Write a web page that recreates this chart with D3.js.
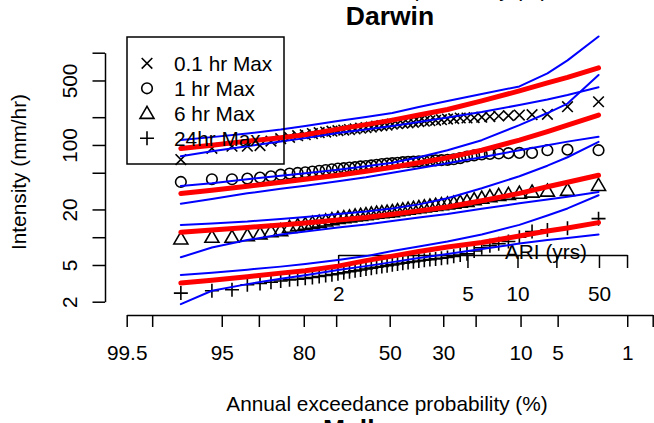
<!DOCTYPE html>
<html><head><meta charset="utf-8">
<script src="https://cdn.jsdelivr.net/npm/d3@7"></script>
<style>
body{margin:0;background:#fff;}
text{font-family:"Liberation Sans",Arial,Helvetica,sans-serif;fill:#000;}
</style></head>
<body><svg id="c" width="654" height="423"></svg>
<script>
// ---------- data ----------
const aepTicks  = [99.5, 99, 95, 90, 80, 70, 50, 30, 20, 10, 5, 1, 0.5];
const aepLabels = ["99.5","","95","","80","","50","30","","10","5","1",""];
const yTicks    = [2,5,10,20,50,100,200,500,1000];
const yLabels   = ["2","5","","20","","100","","500",""];
const ariTicks  = [2,5,10,20,50,100];
const ariLabels = ["2","5","10","","50",""];
const seriesNames = ["0.1 hr Max","1 hr Max","6 hr Max","24hr Max"];
const seriesSymbols = ["cross","circle","triangle","plus"];

// empirical annual maxima, sorted ascending (48 years)
const pts01 = [69.5,92,97,97,98.5,110,117,121,126,129,133,136,138,141,143,145,147,149,152,154,156,160,162,164,168,170,172,174,176,179,181,183,185,188,191,193,196,196,198,200,203,206,208,211,213,215,260,294];
const pts1  = [39.7,42.5,42.5,43.2,44.3,45.7,47.6,48.9,49.7,50.5,51.5,52.5,53.5,54.5,55.5,56,57,57.5,58.5,59,60,61,62,62.8,63.5,64,65,65.5,66,66.5,67,67.5,68,68.4,69,70,72,75,77,79,80,80.8,81.5,82,82,87.7,89,87.7];
const pts6  = [9.6,10,10,10.4,10.9,11.5,11.8,12.8,13.4,13.8,14.2,14.6,15,15.5,16,16.3,16.6,17,17.3,17.6,17.9,18.2,18.5,18.7,19,19.4,19.8,20.2,20.6,21,21.4,21.8,22.2,22.6,23,23.5,24,24.5,25.5,26.5,27.5,28.4,29.2,30,30.9,31.7,32.3,36.5];
const pts24 = [2.48,2.63,2.69,3.05,3.15,3.25,3.35,3.45,3.5,3.58,3.66,3.75,3.84,3.93,4.02,4.12,4.22,4.32,4.42,4.52,4.62,4.72,4.82,4.92,5.02,5.12,5.22,5.32,5.42,5.52,5.62,5.72,5.82,5.92,6.02,6.2,6.4,6.6,7.1,7.7,8.1,8.5,9.0,10.0,11.5,12.0,12.5,15.9];

// fitted curves and confidence bounds, at these AEP (%)
const lineAEP = [97.96,95.92,91.84,85.71,79.59,69.39,59.18,48.98,38.78,28.57,18.37,10.2,6.12,4.08,2.04];
const fit01 = [91.6,99.5,110,120,129,148.5,166,186,211,242,300,385,470,540,685];
const hi01  = [113,121.6,132.8,146.7,160.2,181.6,200.7,221.8,257.8,299.7,357,430.7,597,826,1500];
const lo01  = [75.5,85.6,97,108.7,118.6,134.4,146.7,160.2,177,198,227.5,271,311,348,423];
const fit1  = [29.7,32.2,35.6,39.4,42.5,46.9,51.9,57.4,64.2,72.8,87.7,112.7,139.6,164.3,211];
const hi1   = [35.9,38.4,42.5,46.4,49.3,53.8,58.8,64.2,73.6,87.7,112.7,164.3,221.8,281,574];
const lo1   = [23.1,26.0,29.9,33.5,36.1,40.4,44.6,49.9,55.9,63.4,73.6,87.7,99.5,108.7,122.5];
const fit6  = [11.3,12.0,12.75,13.6,14.3,15.4,16.4,17.7,19.3,21.3,24.8,29.9,35.2,39.4,46.9];
const hi6   = [13.6,14.1,14.8,15.8,16.6,17.9,19.0,20.5,22.7,26.4,33.9,45.8,59.6,73.6,108];
const lo6   = [6.06,7.73,9.32,10.7,11.5,12.75,13.7,15.0,16.4,17.9,20.3,23.3,25.7,27.4,30.9];
const fit24 = [3.19,3.42,3.73,4.08,4.34,4.86,5.58,6.24,6.99,7.82,8.76,10.3,11.7,12.6,14.4];
const hi24  = [3.9,4.13,4.45,4.80,5.11,5.65,6.24,7.08,7.92,8.98,10.7,13.6,17.2,20.5,28.5];
const lo24  = [1.88,2.63,3.10,3.55,3.88,4.40,4.86,5.37,5.94,6.57,7.44,8.54,9.32,9.8,10.7];

// ---------- helpers ----------
function qnorm(p){
  const a=[-3.969683028665376e+01,2.209460984245205e+02,-2.759285104469687e+02,1.383577518672690e+02,-3.066479806614716e+01,2.506628277459239e+00];
  const b=[-5.447609879822406e+01,1.615858368580409e+02,-1.556989798598866e+02,6.680131188771972e+01,-1.328068155288572e+01];
  const c=[-7.784894002430293e-03,-3.223964580411365e-01,-2.400758277161838e+00,-2.549732539343734e+00,4.374664141464968e+00,2.938163982698783e+00];
  const d=[7.784695709041462e-03,3.224671290700398e-01,2.445134137142996e+00,3.754408661907416e+00];
  const pl=0.02425, ph=1-pl; let q,r;
  if(p<pl){q=Math.sqrt(-2*Math.log(p));return (((((c[0]*q+c[1])*q+c[2])*q+c[3])*q+c[4])*q+c[5])/((((d[0]*q+d[1])*q+d[2])*q+d[3])*q+1);}
  if(p>ph){q=Math.sqrt(-2*Math.log(1-p));return -(((((c[0]*q+c[1])*q+c[2])*q+c[3])*q+c[4])*q+c[5])/((((d[0]*q+d[1])*q+d[2])*q+d[3])*q+1);}
  q=p-0.5;r=q*q;return (((((a[0]*r+a[1])*r+a[2])*r+a[3])*r+a[4])*r+a[5])*q/(((((b[0]*r+b[1])*r+b[2])*r+b[3])*r+b[4])*r+1);
}
const zAEP = aep => qnorm(1 - aep/100);            // normal probability axis
const ariToAEP = ari => -Math.log(1 - 1/ari)*100;  // ARI axis transform

// ---------- layout ----------
const svg = d3.select("#c");
const X0 = 126.7, X1 = 652.7;
const x = d3.scaleLinear().domain([zAEP(99.5), zAEP(0.5)]).range([X0, X1]);
const y = d3.scaleLog().domain([2,1000]).range([301.7, 52.7]);
const axisY = 315, yAxisX = 105, ariY = 255;
const FS = 20.8;

// title & cut-off neighbouring panel texts (figure is a crop of a stacked panel figure)
svg.append("text").attr("x",387).attr("y",-3).attr("text-anchor","middle")
  .attr("font-size",FS).text("Annual exceedance probability (%)");
svg.append("text").attr("x",390).attr("y",25).attr("text-anchor","middle")
  .attr("font-weight","bold").attr("font-size",26.5).text("Darwin");
svg.append("text").attr("x",390).attr("y",437.5).attr("text-anchor","middle")
  .attr("font-weight","bold").attr("font-size",26.5).text("Melbourne");

// x axis
const gx = svg.append("g").attr("transform",`translate(0,${axisY})`)
  .call(d3.axisBottom(x).tickValues(aepTicks.map(zAEP)).tickSize(12).tickSizeOuter(0)
    .tickFormat((d,i)=>aepLabels[i]));
gx.selectAll("text").attr("y",45).attr("dy",0).attr("font-size",FS).attr("font-family",null);
gx.selectAll("path,line").attr("stroke","#000").attr("stroke-width",1.5);
svg.append("text").attr("x",387).attr("y",410.5).attr("text-anchor","middle")
  .attr("font-size",FS).text("Annual exceedance probability (%)");

// y axis
const gy = svg.append("g").attr("transform",`translate(${yAxisX},0)`)
  .call(d3.axisLeft(y).tickValues(yTicks).tickSize(12.5).tickSizeOuter(0)
    .tickFormat((d,i)=>yLabels[i]));
gy.selectAll("text").attr("x",0).attr("dy",0).attr("text-anchor","middle")
  .attr("transform","translate(-28,0) rotate(-90)").attr("font-size",FS).attr("font-family",null);
gy.selectAll("path,line").attr("stroke","#000").attr("stroke-width",1.5);
svg.append("text").attr("transform","translate(25.5,172) rotate(-90)").attr("text-anchor","middle")
  .attr("font-size",FS).text("Intensity (mm/hr)");

// ARI axis (inside plot)
const zA = ariTicks.map(a=>zAEP(ariToAEP(a)));
const ariScale = d3.scaleLinear().domain([zA[0], zA[zA.length-1]]).range([x(zA[0]), x(zA[zA.length-1])]);
const ga = svg.append("g").attr("transform",`translate(0,${ariY})`)
  .call(d3.axisBottom(ariScale).tickValues(zA).tickSize(13).tickSizeOuter(0)
    .tickFormat((d,i)=>ariLabels[i]));
ga.selectAll("text").attr("y",45.5).attr("dy",0).attr("font-size",FS).attr("font-family",null);
ga.selectAll("path,line").attr("stroke","#000").attr("stroke-width",1.5);
svg.append("text").attr("x",546).attr("y",259).attr("text-anchor","middle")
  .attr("font-size",FS).text("ARI (yrs)");

// points
function symbolPath(t){
  if(t==="cross") return "M-5.3,-5.3L5.3,5.3M-5.3,5.3L5.3,-5.3";
  if(t==="plus") return "M-7,0H7M0,-7V7";
  if(t==="triangle") return "M0,-7L7,5.1L-7,5.1Z";
  return d3.arc()({innerRadius:0,outerRadius:5.3,startAngle:0,endAngle:2*Math.PI});
}
const allPts = [pts01, pts1, pts6, pts24];
allPts.forEach((arr,k)=>{
  const n = arr.length;
  svg.append("g").selectAll("path").data(arr).join("path")
    .attr("transform",(d,i)=>`translate(${x(qnorm((i+1)/(n+1)))},${y(d)})`)
    .attr("d",symbolPath(seriesSymbols[k]))
    .attr("fill","none").attr("stroke","#000").attr("stroke-width",1.6);
});

// lines
const lineGen = vals => d3.line().x((d,i)=>x(zAEP(lineAEP[i]))).y(d=>y(d))(vals);
[fit01,fit1,fit6,fit24].forEach(v=>{
  svg.append("path").attr("d",lineGen(v)).attr("fill","none").attr("stroke","#ff0000")
    .attr("stroke-width",5).attr("stroke-linejoin","round").attr("stroke-linecap","round");
});
[hi01,lo01,hi1,lo1,hi6,lo6,hi24,lo24].forEach(v=>{
  svg.append("path").attr("d",lineGen(v)).attr("fill","none").attr("stroke","#0000ff")
    .attr("stroke-width",2).attr("stroke-linejoin","round").attr("stroke-linecap","round");
});

// legend
const lg = svg.append("g");
lg.append("rect").attr("x",127).attr("y",37).attr("width",157).attr("height",127)
  .attr("fill","none").attr("stroke","#000").attr("stroke-width",1.5);
seriesNames.forEach((s,i)=>{
  const yy = 63.3 + i*25;
  lg.append("path").attr("transform",`translate(147,${yy})`).attr("d",symbolPath(seriesSymbols[i]))
    .attr("fill","none").attr("stroke","#000").attr("stroke-width",1.6);
  lg.append("text").attr("x",174).attr("y",yy+7.3).attr("font-size",FS).text(s);
});
</script></body></html>
